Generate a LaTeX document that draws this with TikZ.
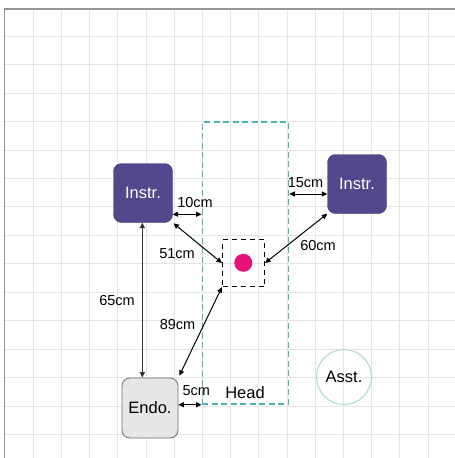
\documentclass[tikz,border=0pt]{standalone}
\usepackage{fontspec}
\setmainfont{Liberation Sans}
\usetikzlibrary{arrows.meta}
\definecolor{instrpurple}{RGB}{82,72,140}
\definecolor{headteal}{RGB}{80,178,178}
\definecolor{assteal}{RGB}{160,212,212}
\definecolor{dotpink}{RGB}{228,18,122}
\definecolor{gridgray}{RGB}{228,228,228}
\definecolor{framegray}{RGB}{150,150,150}
\definecolor{endofill}{RGB}{230,230,230}
\definecolor{endodraw}{RGB}{110,110,110}
\tikzset{
  instrbox/.style={draw=instrpurple!80!black, fill=instrpurple, rounded corners=8pt,
    minimum width=59pt, minimum height=59pt, inner sep=0pt, text=white,
    font=\fontsize{16.5}{18}\selectfont},
  endobox/.style={draw=endodraw, fill=endofill, rounded corners=8pt, line width=0.8pt,
    minimum width=56pt, minimum height=60pt, inner sep=0pt,
    font=\fontsize{16.5}{18}\selectfont},
  asstcircle/.style={draw=assteal, circle, minimum size=55pt, inner sep=0pt, line width=0.9pt,
    font=\fontsize{16.5}{18}\selectfont},
  headbox/.style={draw=headteal, dash pattern=on 6pt off 3.5pt, line width=1.5pt,
    minimum width=86.2pt, minimum height=282pt, inner sep=0pt},
  sqbox/.style={draw=black, dash pattern=on 5pt off 4pt, line width=1.2pt,
    minimum width=42pt, minimum height=47pt, inner sep=0pt},
  pinkdot/.style={circle, fill=dotpink, minimum size=18pt, inner sep=0pt},
  dimarrow/.style={{Triangle[length=5.5pt,width=5pt]}-{Triangle[length=5.5pt,width=5pt]}, line width=1pt, black},
  vertarrow/.style={{Triangle[length=5.5pt,width=5pt]}-{Triangle[length=5.5pt,width=5pt]}, line width=1.4pt, black!80},
  dimlabel/.style={font=\fontsize{14.5}{16}\selectfont, inner sep=0pt},
  bigtext/.style={font=\fontsize{16.5}{18}\selectfont, inner sep=0pt}
}
\begin{document}
\begin{tikzpicture}[x=1pt,y=-1pt]
\useasboundingbox (0,0) rectangle (455,458);
\fill[white] (0,0) rectangle (455,458);
% grid
\foreach \k in {0,...,14} {
  \draw[gridgray, line width=0.9pt] ({33.3+28.2*\k},9) -- ({33.3+28.2*\k},458);
  \draw[gridgray, line width=0.9pt] (4.5,{36.2+28.45*\k}) -- (455,{36.2+28.45*\k});
}
% frame
\draw[framegray, line width=1.4pt] (4.5,458) -- (4.5,9) -- (455,9);

% nodes
\node[headbox] (head) at (245.4,263) {};
\node[bigtext] (headlbl) at (245,393) {Head};
\node[sqbox] (sq) at (243.5,263) {};
\node[pinkdot] (dot) at (243.3,262.8) {};
\node[instrbox] (li) at (143,193) {Instr.};
\node[instrbox] (ri) at (357,184) {Instr.};
\node[endobox] (endo) at (150,408) {Endo.};
\node[asstcircle] (asst) at (344,377) {Asst.};

% coordinates for horizontal dimension lines
\coordinate (y10) at (0,214.3);
\coordinate (y15) at (0,194);

% connectors
\draw[dimarrow] (li.east |- y10) -- (head.west |- y10);
\draw[dimarrow] (head.east |- y15) -- (ri.west |- y15);
\draw[dimarrow, shorten <=1pt] (li.south east) -- (sq.west);
\draw[dimarrow] (sq.east) -- (ri.south west);
\draw[dimarrow, shorten <=2pt] (endo.north east) -- (sq.south west);
\draw[vertarrow] (li.south -| 142.3,0) -- (endo.north -| 142.3,0);
\draw[dimarrow] (endo.east |- head.south) -- (head.south west);

% labels
\node[dimlabel] (l10) at (195,202.7) {10cm};
\node[dimlabel] (l15) at (305.6,182.7) {15cm};
\node[dimlabel] (l51) at (177,253.3) {51cm};
\node[dimlabel] (l60) at (318,245.3) {60cm};
\node[dimlabel] (l89) at (177.5,324.3) {89cm};
\node[dimlabel] (l65) at (117,300.7) {65cm};
\node[dimlabel] (l5) at (196.3,391) {5cm};
\end{tikzpicture}
\end{document}
